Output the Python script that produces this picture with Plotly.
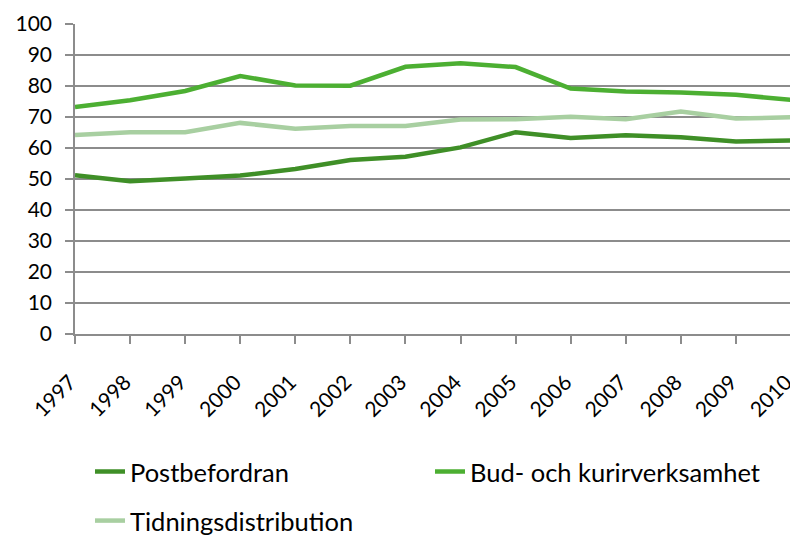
import plotly.graph_objects as go

# År och värden
years = [1997, 1998, 1999, 2000, 2001, 2002, 2003, 2004, 2005, 2006, 2007, 2008, 2009, 2010]
postbefordran = [51.2, 49.3, 50.2, 51.1, 53.2, 56.1, 57.2, 60.2, 65.1, 63.2, 64.1, 63.5, 62.1, 62.4]
bud_kurir = [73.2, 75.4, 78.4, 83.2, 80.2, 80.1, 86.2, 87.3, 86.1, 79.2, 78.2, 77.9, 77.2, 75.5]
tidning = [64.2, 65.1, 65.1, 68.1, 66.2, 67.1, 67.1, 69.2, 69.3, 70.1, 69.3, 71.8, 69.5, 69.9]

serier = [
    ("Postbefordran", postbefordran, "#3f8f27", "legend"),
    ("Bud- och kurirverksamhet", bud_kurir, "#4caf32", "legend2"),
    ("Tidningsdistribution", tidning, "#a8cfa1", "legend3"),
]

# sidan har 8 px marginal i body, så figuren görs 8 px mindre
W, H = 790, 528

fig = go.Figure()
for namn, varden, farg, leg in serier:
    fig.add_trace(go.Scatter(
        x=years, y=varden, name=namn, mode="lines",
        line=dict(color=farg, width=4.5), legend=leg,
    ))

def legend_pos(px, py):
    return dict(
        orientation="h", xref="container", yref="container",
        x=px / W, y=1 - py / H, xanchor="left", yanchor="middle",
        itemwidth=30, font=dict(size=25.5), bgcolor="rgba(0,0,0,0)",
    )

fig.update_layout(
    width=W, height=H,
    margin=dict(l=67, r=7, t=16, b=202, autoexpand=False),
    paper_bgcolor="white", plot_bgcolor="white",
    font=dict(family="Lato, Open Sans, sans-serif", size=19, color="black"),
    showlegend=True,
    legend=legend_pos(82, 464),
    legend2=legend_pos(422, 464),
    legend3=legend_pos(82, 513),
)

fig.update_xaxes(
    range=[1997, 2010], tickmode="array", tickvals=years,
    ticktext=[str(y) for y in years], tickangle=-45,
    tickfont=dict(size=21), ticklabelstandoff=18, ticklabelshift=-5,
    ticklabeloverflow="allow", automargin=False,
    showgrid=False, showline=True, linecolor="#8c8c8c", linewidth=1.5,
    ticks="outside", ticklen=8, tickcolor="#8c8c8c", tickwidth=1.5,
    zeroline=False,
)
fig.update_yaxes(
    range=[0, 100], dtick=10, tick0=0, automargin=False,
    tickfont=dict(size=21), ticklabelstandoff=9,
    showgrid=True, gridcolor="#8c8c8c", gridwidth=1.5,
    showline=True, linecolor="#8c8c8c", linewidth=1.5,
    ticks="outside", ticklen=8, tickcolor="#8c8c8c", tickwidth=1.5,
    zeroline=False,
)

fig.write_html("out.html")
